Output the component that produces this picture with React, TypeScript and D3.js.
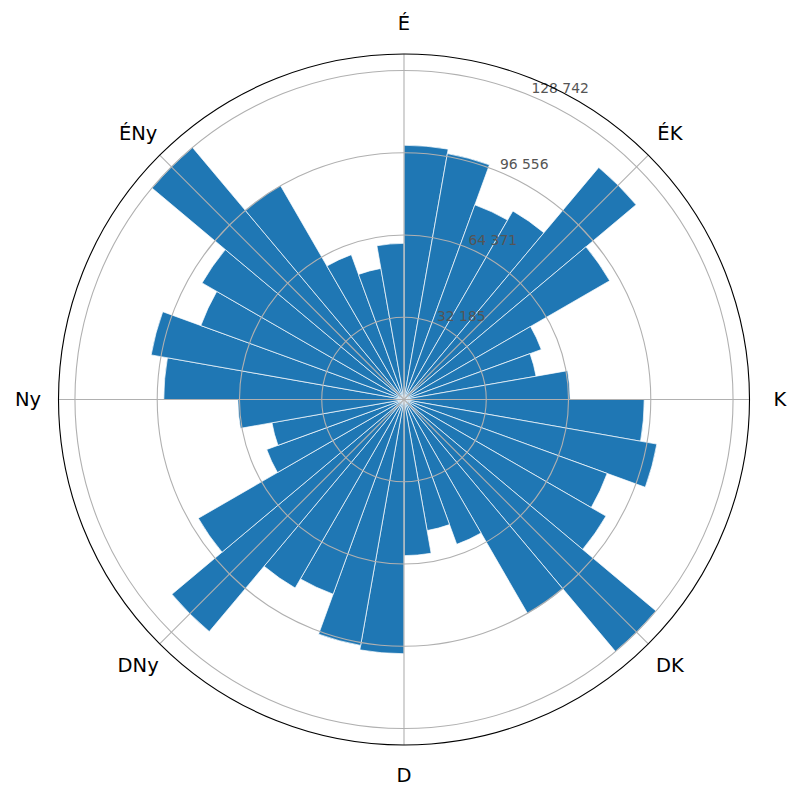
import React from "react";
import * as d3 from "d3";

// Bin start angles (degrees, clockwise from north), 10° wide bins
const binStarts = [
  0, 10, 20, 30, 40, 50, 60, 70, 80, 90, 100, 110, 120, 130, 140, 150, 160, 170,
  180, 190, 200, 210, 220, 230, 240, 250, 260, 270, 280, 290, 300, 310, 320, 330, 340, 350,
];
const binWidth = 10;

// Bar values
const values = [
  99470, 97700, 81060, 85170, 118540, 92930, 57170, 52470, 65000,
  93980, 100450, 84590, 91240, 128742, 96730, 60310, 52080, 61090,
  99470, 97700, 81060, 85170, 118540, 92930, 57170, 52470, 65000,
  93980, 100450, 84590, 91240, 128742, 96730, 60310, 52080, 61090,
];

// Radial ticks and their labels
const rTicks = [32185.5, 64371, 96556.5, 128742];
const rTickLabels = ["32 185", "64 371", "96 556", "128 742"];

// Compass direction labels
const dirAngles = [0, 45, 90, 135, 180, 225, 270, 315];
const dirLabels = ["É", "ÉK", "K", "DK", "D", "DNy", "Ny", "ÉNy"];

const W = 802;
const H = 801;
const cx = 404;
const cy = 399.5;
const R = 345.5;
const rMax = 128742 * 1.05;

export default function App() {
  const r = d3.scaleLinear().domain([0, rMax]).range([0, R]);
  const rad = (d: number) => (d * Math.PI) / 180;
  const arc = d3.arc<any>();
  const pt = (deg: number, rr: number): [number, number] => [
    Math.sin(rad(deg)) * rr,
    -Math.cos(rad(deg)) * rr,
  ];
  const font = "DejaVu Sans, sans-serif";

  return (
    <svg
      width={W}
      height={H}
      style={{ position: "absolute", left: 0, top: 0, background: "#fff" }}
      fontFamily={font}
    >
      <g transform={`translate(${cx},${cy})`}>
        {binStarts.map((s, i) => (
          <path
            key={i}
            d={
              arc({
                innerRadius: 0,
                outerRadius: r(values[i]),
                startAngle: rad(s),
                endAngle: rad(s + binWidth),
              }) as string
            }
            fill="#1f77b4"
            stroke="#ffffff"
            strokeWidth={0.7}
          />
        ))}
        {rTicks.map((t, i) => (
          <circle key={i} r={r(t)} fill="none" stroke="#b0b0b0" strokeWidth={1.1} />
        ))}
        {dirAngles.map((a, i) => {
          const [x, y] = pt(a, R);
          return <line key={i} x1={0} y1={0} x2={x} y2={y} stroke="#b0b0b0" strokeWidth={1.1} />;
        })}
        {rTicks.map((t, i) => {
          const [x, y] = pt(22.5, r(t));
          return (
            <text key={i} x={x + 1.5} y={y - 3} fontSize={13.9} fill="#555555">
              {rTickLabels[i]}
            </text>
          );
        })}
        <circle r={R} fill="none" stroke="#000" strokeWidth={1.1} />
        {dirAngles.map((a, i) => {
          const [x, y] = pt(a, 376);
          return (
            <text
              key={i}
              x={x}
              y={y}
              fontSize={19.5}
              textAnchor="middle"
              dominantBaseline="central"
              fill="#000"
            >
              {dirLabels[i]}
            </text>
          );
        })}
      </g>
    </svg>
  );
}
